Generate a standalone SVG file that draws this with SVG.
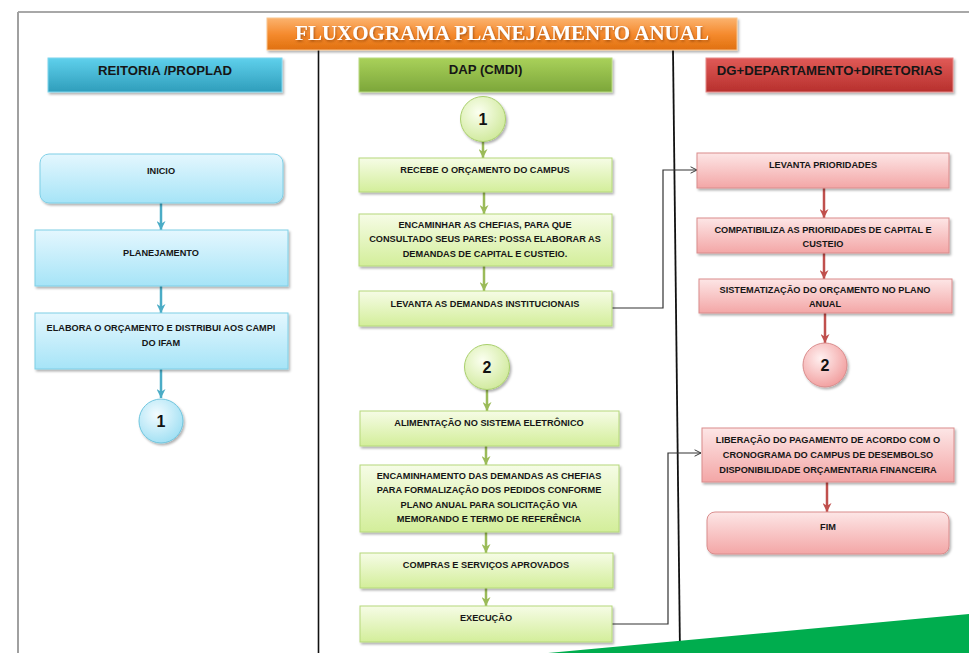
<svg xmlns="http://www.w3.org/2000/svg" width="969" height="653" viewBox="0 0 969 653">
<defs>
<linearGradient id="gOrange" x1="0" y1="0" x2="0" y2="1"><stop offset="0" stop-color="#fbb36f"/><stop offset="0.5" stop-color="#f58b2e"/><stop offset="1" stop-color="#e0700f"/></linearGradient>
<linearGradient id="gBlueH" x1="0" y1="0" x2="0" y2="1"><stop offset="0" stop-color="#5fd0ec"/><stop offset="1" stop-color="#2f9dbb"/></linearGradient>
<linearGradient id="gGreenH" x1="0" y1="0" x2="0" y2="1"><stop offset="0" stop-color="#a9d15a"/><stop offset="1" stop-color="#7ca63a"/></linearGradient>
<linearGradient id="gRedH" x1="0" y1="0" x2="0" y2="1"><stop offset="0" stop-color="#e05a57"/><stop offset="1" stop-color="#b7302d"/></linearGradient>
<linearGradient id="gCyan" x1="0" y1="0" x2="0" y2="1"><stop offset="0" stop-color="#e4f7fe"/><stop offset="1" stop-color="#a6e4f7"/></linearGradient>
<linearGradient id="gGreen" x1="0" y1="0" x2="0" y2="1"><stop offset="0" stop-color="#f6fce6"/><stop offset="1" stop-color="#d3ee9a"/></linearGradient>
<linearGradient id="gPink" x1="0" y1="0" x2="0" y2="1"><stop offset="0" stop-color="#fde6e6"/><stop offset="1" stop-color="#f3a6a6"/></linearGradient>
<radialGradient id="rCyan" cx="0.4" cy="0.35" r="0.7"><stop offset="0" stop-color="#f2fbff"/><stop offset="1" stop-color="#9edff3"/></radialGradient>
<radialGradient id="rGreen" cx="0.4" cy="0.35" r="0.7"><stop offset="0" stop-color="#fbfff0"/><stop offset="1" stop-color="#cfe99a"/></radialGradient>
<radialGradient id="rPink" cx="0.4" cy="0.35" r="0.7"><stop offset="0" stop-color="#fff0f0"/><stop offset="1" stop-color="#f19c9c"/></radialGradient>
<filter id="sh" x="-10%" y="-20%" width="125%" height="150%"><feDropShadow dx="1.5" dy="2" stdDeviation="1.2" flood-color="#000" flood-opacity="0.3"/></filter>
<filter id="tsh" x="-5%" y="-20%" width="110%" height="150%"><feDropShadow dx="1" dy="1.5" stdDeviation="0.8" flood-color="#7a3500" flood-opacity="0.6"/></filter>
<marker id="aBlue" viewBox="0 0 10 10" refX="10" refY="5" markerUnits="userSpaceOnUse" markerWidth="9" markerHeight="9" orient="auto"><path d="M0,0 L10,5 L0,10 L3,5 z" fill="#4bacc6"/></marker>
<marker id="aGreen" viewBox="0 0 10 10" refX="10" refY="5" markerUnits="userSpaceOnUse" markerWidth="9" markerHeight="9" orient="auto"><path d="M0,0 L10,5 L0,10 L3,5 z" fill="#9bbb59"/></marker>
<marker id="aRed" viewBox="0 0 10 10" refX="10" refY="5" markerUnits="userSpaceOnUse" markerWidth="9" markerHeight="9" orient="auto"><path d="M0,0 L10,5 L0,10 L3,5 z" fill="#c0504d"/></marker>
<marker id="aOpen" viewBox="0 0 10 10" refX="9" refY="5" markerUnits="userSpaceOnUse" markerWidth="8" markerHeight="8" orient="auto"><path d="M1,1 L9,5 L1,9" fill="none" stroke="#333" stroke-width="1.2"/></marker>
</defs>
<style>
.t{font-family:"Liberation Sans",Arial,sans-serif;font-weight:bold;font-size:9.2px;fill:#161616;text-anchor:middle}
.h{font-family:"Liberation Sans",Arial,sans-serif;font-weight:bold;font-size:13.2px;fill:#161616;text-anchor:middle}
.n{font-family:"Liberation Sans",Arial,sans-serif;font-weight:bold;font-size:16px;fill:#111;text-anchor:middle}
.cy{fill:url(#gCyan);stroke:#7fcfe6;stroke-width:1;filter:url(#sh)}
.gr{fill:url(#gGreen);stroke:#b5d87a;stroke-width:1;filter:url(#sh)}
.pk{fill:url(#gPink);stroke:#d98c8c;stroke-width:1;filter:url(#sh)}
.lb{stroke:#4bacc6;stroke-width:2.5;fill:none;marker-end:url(#aBlue)}
.lg{stroke:#9bbb59;stroke-width:2.5;fill:none;marker-end:url(#aGreen)}
.lr{stroke:#c0504d;stroke-width:2.5;fill:none;marker-end:url(#aRed)}
.lc{stroke:#333;stroke-width:1.2;fill:none;marker-end:url(#aOpen)}
</style>
<rect width="969" height="653" fill="#ffffff"/>
<!-- frame -->
<line x1="18" y1="12" x2="969" y2="12" stroke="#a8a8a8" stroke-width="2"/>
<line x1="18" y1="12" x2="18" y2="653" stroke="#a0a0a0" stroke-width="2"/>
<!-- lane separators -->
<line x1="318.5" y1="50" x2="318.5" y2="653" stroke="#111" stroke-width="1.6"/>
<line x1="673" y1="50" x2="680" y2="653" stroke="#111" stroke-width="1.8"/>
<!-- title -->
<g id="title">
<rect x="267" y="18" width="470" height="32" fill="url(#gOrange)" stroke="#f9c58f" stroke-width="1" filter="url(#sh)"/>
<text x="502" y="40" font-family="'Liberation Serif','Times New Roman',serif" font-weight="bold" font-size="21" fill="#ffffff" text-anchor="middle" filter="url(#tsh)">FLUXOGRAMA PLANEJAMENTO ANUAL</text>
</g>
<!-- lane headers -->
<g id="lane-reitoria">
<rect x="48" y="58" width="234" height="34" fill="url(#gBlueH)" stroke="#7fd6ee" stroke-width="1" filter="url(#sh)"/>
<text class="h" x="165" y="75">REITORIA /PROPLAD</text>
</g>
<g id="lane-dap">
<rect x="359" y="58" width="253" height="34" fill="url(#gGreenH)" stroke="#b9da80" stroke-width="1" filter="url(#sh)"/>
<text class="h" x="485.5" y="74">DAP (CMDI)</text>
</g>
<g id="lane-dg">
<rect x="706" y="58" width="247" height="34" fill="url(#gRedH)" stroke="#e58a88" stroke-width="1" filter="url(#sh)"/>
<text class="h" x="829.5" y="75">DG+DEPARTAMENTO+DIRETORIAS</text>
</g>
<!-- connectors -->
<g id="connectors">
<line class="lb" x1="161" y1="203" x2="161" y2="230"/>
<line class="lb" x1="161" y1="286" x2="161" y2="313"/>
<line class="lb" x1="161" y1="369" x2="161" y2="398"/>
<line class="lg" x1="483" y1="142" x2="483" y2="158"/>
<line class="lg" x1="484" y1="192" x2="484" y2="214"/>
<line class="lg" x1="484" y1="266" x2="484" y2="291"/>
<line class="lg" x1="487" y1="390" x2="487" y2="411"/>
<line class="lg" x1="486" y1="446" x2="486" y2="465"/>
<line class="lg" x1="486" y1="532" x2="486" y2="553"/>
<line class="lg" x1="486" y1="588" x2="486" y2="606"/>
<line class="lr" x1="824" y1="188" x2="824" y2="218"/>
<line class="lr" x1="824" y1="253" x2="824" y2="279"/>
<line class="lr" x1="825" y1="313" x2="825" y2="343"/>
<line class="lr" x1="827" y1="482" x2="827" y2="512"/>
<polyline class="lc" points="612,308 663,308 663,170 697,170"/>
<polyline class="lc" points="612,624 668,624 668,453 701,453"/>
</g>
<!-- left lane nodes -->
<g id="n-inicio">
<rect class="cy" x="40" y="154" width="243" height="49" rx="9"/>
<text class="t" x="161" y="174">INICIO</text>
</g>
<g id="n-planejamento">
<rect class="cy" x="35" y="230" width="253" height="56"/>
<text class="t" x="161" y="256">PLANEJAMENTO</text>
</g>
<g id="n-elabora">
<rect class="cy" x="35" y="313" width="253" height="56"/>
<text class="t" x="161" y="331">ELABORA O ORÇAMENTO E DISTRIBUI AOS CAMPI</text>
<text class="t" x="161" y="346">DO IFAM</text>
</g>
<g id="c-1a">
<circle cx="161" cy="421" r="22" fill="url(#rCyan)" stroke="#6fc5de" stroke-width="1" filter="url(#sh)"/>
<text class="n" x="161" y="427">1</text>
</g>
<!-- middle lane nodes -->
<g id="c-1b">
<circle cx="483" cy="119" r="22.5" fill="url(#rGreen)" stroke="#a9cf6c" stroke-width="1" filter="url(#sh)"/>
<text class="n" x="483" y="125">1</text>
</g>
<g id="n-recebe">
<rect class="gr" x="359" y="158" width="253" height="34"/>
<text class="t" x="485" y="172.5">RECEBE O ORÇAMENTO DO CAMPUS</text>
</g>
<g id="n-encaminhar">
<rect class="gr" x="359" y="214" width="253" height="52"/>
<text class="t" x="485" y="227.5">ENCAMINHAR AS CHEFIAS, PARA QUE</text>
<text class="t" x="485" y="242">CONSULTADO SEUS PARES: POSSA ELABORAR AS</text>
<text class="t" x="485" y="256.5">DEMANDAS DE CAPITAL E CUSTEIO.</text>
</g>
<g id="n-levanta-demandas">
<rect class="gr" x="359" y="291" width="253" height="35"/>
<text class="t" x="485" y="306.5">LEVANTA AS DEMANDAS INSTITUCIONAIS</text>
</g>
<g id="c-2b">
<circle cx="487" cy="367" r="22.5" fill="url(#rGreen)" stroke="#a9cf6c" stroke-width="1" filter="url(#sh)"/>
<text class="n" x="487" y="373">2</text>
</g>
<g id="n-alimentacao">
<rect class="gr" x="360" y="411" width="259" height="35"/>
<text class="t" x="489" y="425.5">ALIMENTAÇÃO NO SISTEMA ELETRÔNICO</text>
</g>
<g id="n-encaminhamento">
<rect class="gr" x="360" y="465" width="259" height="67"/>
<text class="t" x="489" y="478.5">ENCAMINHAMENTO DAS DEMANDAS AS CHEFIAS</text>
<text class="t" x="489" y="493">PARA FORMALIZAÇÃO DOS PEDIDOS CONFORME</text>
<text class="t" x="489" y="507.5">PLANO ANUAL PARA SOLICITAÇÃO VIA</text>
<text class="t" x="489" y="522">MEMORANDO E TERMO DE REFERÊNCIA</text>
</g>
<g id="n-compras">
<rect class="gr" x="360" y="553" width="253" height="35"/>
<text class="t" x="486" y="567.5">COMPRAS E SERVIÇOS APROVADOS</text>
</g>
<g id="n-execucao">
<rect class="gr" x="360" y="606" width="252" height="36"/>
<text class="t" x="486" y="620.5">EXECUÇÃO</text>
</g>
<!-- right lane nodes -->
<g id="n-levanta-prioridades">
<rect class="pk" x="697" y="153" width="252" height="35"/>
<text class="t" x="823" y="167.5">LEVANTA PRIORIDADES</text>
</g>
<g id="n-compatibiliza">
<rect class="pk" x="697" y="218" width="252" height="35"/>
<text class="t" x="823" y="232.5">COMPATIBILIZA AS PRIORIDADES DE CAPITAL E</text>
<text class="t" x="823" y="246.5">CUSTEIO</text>
</g>
<g id="n-sistematizacao">
<rect class="pk" x="699" y="279" width="253" height="34"/>
<text class="t" x="825" y="292.5">SISTEMATIZAÇÃO DO ORÇAMENTO NO PLANO</text>
<text class="t" x="825" y="307">ANUAL</text>
</g>
<g id="c-2c">
<circle cx="825" cy="365" r="22" fill="url(#rPink)" stroke="#d98c8c" stroke-width="1" filter="url(#sh)"/>
<text class="n" x="825" y="371">2</text>
</g>
<g id="n-liberacao">
<rect class="pk" x="702" y="428" width="252" height="54"/>
<text class="t" x="828" y="442.5">LIBERAÇÃO DO PAGAMENTO DE ACORDO COM O</text>
<text class="t" x="828" y="457.5">CRONOGRAMA DO CAMPUS DE DESEMBOLSO</text>
<text class="t" x="828" y="472.5">DISPONIBILIDADE ORÇAMENTARIA FINANCEIRA</text>
</g>
<g id="n-fim">
<rect class="pk" x="707" y="512" width="242" height="42" rx="8"/>
<text class="t" x="828" y="530">FIM</text>
</g>
<!-- green corner band -->
<polygon points="548,653 969,614 969,653" fill="#00ad4e"/>
</svg>
